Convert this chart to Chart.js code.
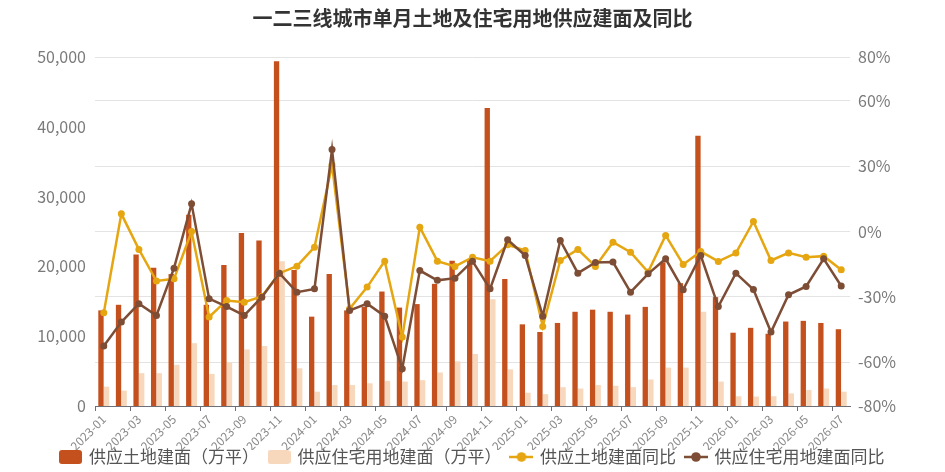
<!DOCTYPE html>
<html><head><meta charset="utf-8">
<script src="https://cdn.jsdelivr.net/npm/chart.js@4.4.0/dist/chart.umd.min.js"></script>
<style>html,body{margin:0;padding:0;background:#fff;}#wrap{width:945px;height:472px;position:relative;}</style>
</head><body><div id="wrap"><canvas id="c"></canvas></div>
<script>
const months = ['2023-01','2023-02','2023-03','2023-04','2023-05','2023-06','2023-07','2023-08','2023-09','2023-10','2023-11','2023-12',
'2024-01','2024-02','2024-03','2024-04','2024-05','2024-06','2024-07','2024-08','2024-09','2024-10','2024-11','2024-12',
'2025-01','2025-02','2025-03','2025-04','2025-05','2025-06','2025-07','2025-08','2025-09','2025-10','2025-11','2025-12',
'2026-01','2026-02','2026-03','2026-04','2026-05','2026-06','2026-07'];
const landArea = [13700,14500,21700,19800,18900,27400,14500,20200,24800,23700,49400,19500,
12800,18900,13700,14200,16400,14100,14600,17500,20800,21000,42700,18200,
11700,10600,11900,13500,13800,13500,13100,14200,20600,17600,38700,15600,
10500,11200,10350,12100,12200,11900,11000];
const resArea = [2770,2200,4700,4700,5900,9000,4600,6250,8100,8600,20750,5400,
2050,3000,3000,3250,3600,3500,3700,4800,6400,7450,15300,5250,
1900,1700,2700,2500,3000,2900,2700,3800,5500,5500,13500,3500,
1400,1350,1400,1800,2300,2500,2050];
const landYoY = [-37.3,8.1,-8.2,-22.7,-21.7,0,-39.2,-31.6,-32.4,-29.8,-19.1,-15.9,
-7.2,30.5,-35.4,-25.5,-13.6,-48.4,2.0,-13.6,-16.0,-11.8,-13.6,-6.1,
-8.7,-43.5,-13.3,-8.2,-16.0,-4.9,-9.5,-18.6,-1.8,-15.1,-9.2,-13.7,
-9.9,4.6,-13.3,-9.8,-11.8,-11.3,-17.5];
const resYoY = [-52.5,-41.5,-33.1,-38.5,-16.8,12.7,-30.8,-34.4,-38.5,-30.1,-19.1,-27.8,
-26.3,37.6,-36.2,-33.1,-38.8,-62.9,-17.9,-22.4,-21.4,-13.6,-26.3,-3.8,
-11.0,-38.8,-4.1,-19.1,-14.2,-14.0,-27.8,-19.4,-12.5,-26.7,-11.0,-34.4,
-19.1,-26.6,-46.1,-29.0,-25.2,-12.5,-25.0];
const leftTicks = [0,10000,20000,30000,40000,50000];
const rightTicks = [-80,-60,-30,0,30,60,80];
const seriesNames = ['供应土地建面（万平）','供应住宅用地建面（万平）','供应土地建面同比','供应住宅用地建面同比'];
const titleText = '一二三线城市单月土地及住宅用地供应建面及同比';

const C_RED = '#C4501E', C_LIGHT = '#F7D8BC', C_YEL = '#E5A611', C_BRN = '#7E4D35';
const FONT = "'Noto Sans CJK SC', 'Microsoft YaHei', sans-serif";
Chart.defaults.font.family = FONT;

function rectSwatch(color){
  const c = document.createElement('canvas'); c.width = 23; c.height = 14;
  const g = c.getContext('2d'); g.fillStyle = color;
  g.beginPath(); g.roundRect(0,0,23,14,3); g.fill(); return c;
}
function lineSwatch(color){
  const c = document.createElement('canvas'); c.width = 24; c.height = 14;
  const g = c.getContext('2d'); g.strokeStyle = color; g.lineWidth = 2.5;
  g.beginPath(); g.moveTo(0,7); g.lineTo(24,7); g.stroke();
  g.fillStyle = color; g.beginPath(); g.arc(12,7,4.8,0,Math.PI*2); g.fill(); return c;
}
const swatches = [rectSwatch(C_RED), rectSwatch(C_LIGHT), lineSwatch(C_YEL), lineSwatch(C_BRN)];

const legendShift = {
  id:'legendShift',
  afterLayout(chart){ const lg = chart.legend; if(lg){ lg.top -= 11.5; lg.bottom = chart.height; } }
};

new Chart(document.getElementById('c'), {
  data: {
    labels: months,
    datasets: [
      {type:'bar', label:seriesNames[0], data:landArea, backgroundColor:C_RED, yAxisID:'y', order:2, categoryPercentage:0.64, barPercentage:0.95},
      {type:'bar', label:seriesNames[1], data:resArea, backgroundColor:C_LIGHT, yAxisID:'y', order:3, categoryPercentage:0.64, barPercentage:0.95},
      {type:'line', label:seriesNames[2], data:landYoY, borderColor:C_YEL, backgroundColor:C_YEL, borderWidth:2.5, pointRadius:3.5, pointHoverRadius:3.5, pointBorderWidth:0, tension:0, yAxisID:'y1', order:1},
      {type:'line', label:seriesNames[3], data:resYoY, borderColor:C_BRN, backgroundColor:C_BRN, borderWidth:2.5, pointRadius:3.5, pointHoverRadius:3.5, pointBorderWidth:0, tension:0, yAxisID:'y1', order:0}
    ]
  },
  options: {
    responsive:true, maintainAspectRatio:false, animation:false,
    layout:{padding:0},
    plugins:{
      title:{display:true, text:titleText, color:'#333', font:{size:20, weight:'bold'}, padding:{top:6, bottom:27}},
      legend:{position:'bottom', maxHeight:22, labels:{
        usePointStyle:true, pointStyleWidth:20, boxHeight:14, padding:10, color:'#555', font:{size:17},
        generateLabels: () => seriesNames.map((t,i)=>({text:t, pointStyle:swatches[i], fillStyle:'transparent', strokeStyle:'transparent', lineWidth:0, hidden:false, datasetIndex:i, fontColor:'#555'}))
      }},
      tooltip:{enabled:false}
    },
    scales:{
      x:{
        offset:true,
        grid:{display:true, drawOnChartArea:false, offset:true, tickLength:5, color:(ctx)=> (ctx.index%2===0 || ctx.index===months.length) ? '#6E7079' : 'rgba(0,0,0,0)'},
        border:{display:true, color:'#6E7079'},
        ticks:{autoSkip:false, minRotation:45, maxRotation:45, color:'#8A8A8A', font:{size:12}, padding:1,
          callback:(v,i)=> i%2===0 ? months[i] : ''},
        afterFit:(s)=>{ s.height = 44; }
      },
      y:{
        position:'left', min:0, max:50000,
        afterBuildTicks:(s)=>{ s.ticks = leftTicks.map(v=>({value:v})); },
        grid:{display:false, drawTicks:false}, border:{display:false},
        ticks:{color:'#7A7A7A', font:{size:16}, padding:9, callback:(v)=> Number(v).toLocaleString('en-US')},
        afterFit:(s)=>{ s.width = 95; }
      },
      y1:{
        position:'right', min:-80, max:80,
        afterBuildTicks:(s)=>{ s.ticks = rightTicks.map(v=>({value:v})); },
        grid:{display:true, drawTicks:false, color:'#E3E3E3', lineWidth:1}, border:{display:false},
        ticks:{color:'#7A7A7A', font:{size:16}, padding:8, callback:(v)=> v + '%'},
        afterFit:(s)=>{ s.width = 95; }
      }
    }
  },
  plugins:[legendShift]
});
</script></body></html>
